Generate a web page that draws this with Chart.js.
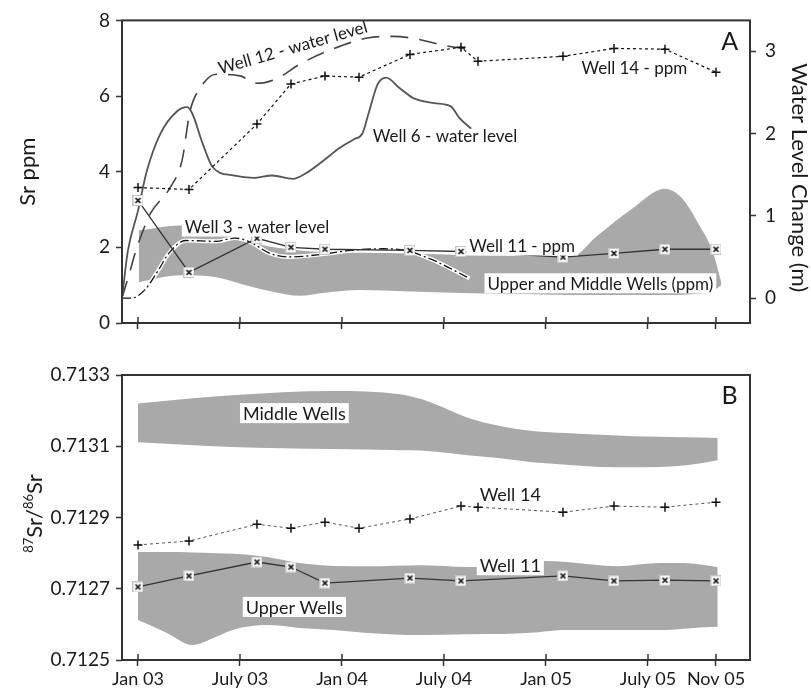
<!DOCTYPE html>
<html>
<head>
<meta charset="utf-8">
<title>Sr ppm, water level and 87Sr/86Sr</title>
<script src="https://cdn.jsdelivr.net/npm/chart.js@4.4.1/dist/chart.umd.min.js"></script>
<style>
  body { margin: 0; background: #fff; }
  canvas { display: block; }
</style>
</head>
<body>
<canvas id="panelA" width="811" height="345"></canvas>
<canvas id="panelB" width="811" height="345"></canvas>
<script>
// x values are months counted from Jan 2003
const tickMonths = [0, 6, 12, 18, 24, 30, 34];
const tickLabels = ["Jan 03", "July 03", "Jan 04", "July 04", "Jan 05", "July 05", "Nov 05"];
const ppmTicks = [0, 2, 4, 6, 8];
const levelTicks = [0, 1, 2, 3];
const ratioTicks = [0.7125, 0.7127, 0.7129, 0.7131, 0.7133];

// sampling dates
const well14Months = [0, 3, 7, 9, 11, 13, 16, 19, 20, 25, 28, 31, 34];
const well11Months = [0, 3, 7, 9, 11, 16, 19, 25, 28, 31, 34];

// panel A - Sr ppm
const well14Ppm = [3.58, 3.53, 5.26, 6.32, 6.53, 6.5, 7.1, 7.29, 6.92, 7.05, 7.26, 7.24, 6.63];
const well11Ppm = [3.24, 1.34, 2.24, 2.0, 1.95, 1.92, 1.89, 1.74, 1.84, 1.95, 1.95];

const bandAMonths = [0.06, 2.5, 4.6, 6.5, 8, 9.5, 11, 13, 16, 19, 22, 25.5, 27, 29, 31, 32, 33, 33.8, 34.3];
const bandAUpper = [2.45, 2.58, 2.39, 2.15, 2.0, 1.92, 1.88, 1.86, 1.84, 1.8, 1.78, 1.76, 2.3, 3.0, 3.55, 3.3, 2.6, 1.9, 1.1];
const bandALower = [1.08, 1.26, 1.21, 0.98, 0.82, 0.72, 0.8, 0.87, 0.83, 0.79, 0.77, 0.74, 0.74, 0.74, 0.74, 0.75, 0.78, 0.84, 1.0];

// panel A - water level change (m)
const well12Months = [-0.94, -0.41, -0.18, 0.41, 0.76, 1.88, 2.59, 3.06, 3.65, 4.6, 6.0, 7.0, 8.2, 9.5, 11.5, 13.5, 15.0, 16.6, 18.0, 19.5];
const well12Level = [0.0, 0.37, 0.54, 0.88, 1.04, 1.34, 1.67, 2.27, 2.55, 2.72, 2.7, 2.61, 2.67, 2.84, 3.03, 3.16, 3.18, 3.14, 3.07, 3.02];

const well6Months = [-0.94, -0.59, 0, 0.5, 1.3, 2.3, 2.9, 3.2, 3.8, 4.4, 5.6, 6.8, 7.9, 9.1, 9.9, 10.9, 11.9, 12.7, 13.2, 13.6, 14.1, 14.6, 15.4, 16.2, 17.4, 18.4, 18.9, 19.6];
const well6Level = [0.0, 0.58, 1.06, 1.53, 1.99, 2.27, 2.32, 2.24, 1.88, 1.59, 1.49, 1.46, 1.49, 1.45, 1.52, 1.67, 1.83, 1.93, 2.0, 2.27, 2.6, 2.68, 2.55, 2.43, 2.37, 2.33, 2.19, 2.06];

const well3Months = [-0.94, -0.4, 0.4, 1.2, 1.8, 2.8, 4.6, 5.7, 6.6, 7.8, 8.9, 11.1, 12.5, 14.4, 16.0, 16.4, 17.6, 19.5];
const well3Level = [0.0, 0.0, 0.1, 0.34, 0.54, 0.7, 0.69, 0.73, 0.68, 0.54, 0.5, 0.54, 0.58, 0.6, 0.57, 0.54, 0.44, 0.24];

// panel B - 87Sr/86Sr
const well14Ratio = [0.712823, 0.712834, 0.712881, 0.71287, 0.712887, 0.71287, 0.712896, 0.712932, 0.712929, 0.712915, 0.712932, 0.712929, 0.712943];
const well11Ratio = [0.712705, 0.712736, 0.712775, 0.712761, 0.712716, 0.71273, 0.712722, 0.712736, 0.712722, 0.712724, 0.712722];

const midMonths = [0, 5.5, 11.5, 15.4, 16.6, 17.4, 19.4, 21.3, 23.2, 25.2, 27.2, 29.1, 32.1, 34.1];
const midUpper = [0.71322, 0.713243, 0.713255, 0.713246, 0.713233, 0.71322, 0.71318, 0.713157, 0.713143, 0.713137, 0.713132, 0.713128, 0.713125, 0.713123];
const midLower = [0.713111, 0.713098, 0.713092, 0.713089, 0.713088, 0.713085, 0.713075, 0.713066, 0.713055, 0.713048, 0.713042, 0.713041, 0.713046, 0.713061];

const upMonths = [0, 1.7, 3.2, 4.6, 5.6, 7.6, 9.5, 11.5, 13.5, 16.6, 19.4, 23.6, 23.9, 25.2, 28.2, 30.7, 32.1, 34.1];
const upUpper = [0.712803, 0.712803, 0.712802, 0.7128, 0.712798, 0.712789, 0.712772, 0.712764, 0.712763, 0.712766, 0.712761, 0.71276, 0.712778, 0.712775, 0.712763, 0.712772, 0.712772, 0.712761];
const upLower = [0.712612, 0.712576, 0.712542, 0.712565, 0.712585, 0.712598, 0.71259, 0.712584, 0.712576, 0.71257, 0.712572, 0.712578, 0.71258, 0.712584, 0.712584, 0.712584, 0.712588, 0.712593];

Chart.defaults.font.family = "Lato";
Chart.defaults.color = "#1a1a1a";

const INK = "#1a1a1a";
const AXIS = "#333";
const BAND = "#a9a9a9";

const pts = (xs, ys) => xs.map((x, i) => ({ x: x, y: ys[i] }));

// white box with an x, used for Well 11
function boxCross(size) {
  const c = document.createElement("canvas");
  c.width = size;
  c.height = size;
  const g = c.getContext("2d");
  g.fillStyle = "#fff";
  g.fillRect(0, 0, size, size);
  g.strokeStyle = "#c4c4c4";
  g.lineWidth = 1;
  g.strokeRect(0.5, 0.5, size - 1, size - 1);
  g.strokeStyle = "#111";
  g.lineWidth = 1.7;
  g.beginPath();
  g.moveTo(3, 3);
  g.lineTo(size - 3, size - 3);
  g.moveTo(size - 3, 3);
  g.lineTo(3, size - 3);
  g.stroke();
  return c;
}
const well11Marker = boxCross(11);

const setTicks = (values) => (scale) => {
  scale.ticks = values.map((v) => ({ value: v }));
};

function xScale(showLabels, height) {
  return {
    type: "linear",
    min: -0.94,
    max: 36,
    afterBuildTicks: setTicks(tickMonths),
    afterFit: (s) => { s.height = height; },
    border: { display: false },
    grid: { drawOnChartArea: false, tickLength: 6, tickColor: AXIS, tickWidth: 1.5 },
    ticks: {
      display: showLabels,
      padding: 2,
      maxRotation: 0,
      autoSkip: false,
      font: { size: 18 },
      callback: (v) => tickLabels[tickMonths.indexOf(v)],
    },
  };
}

function yTickGrid() {
  return { drawOnChartArea: false, tickLength: 6, tickColor: AXIS, tickWidth: 1.5 };
}

// box round the plot and the inner half of the x ticks
const framePlugin = {
  id: "frame",
  afterDraw(chart) {
    const { ctx, chartArea: a } = chart;
    const x = chart.scales.x;
    ctx.save();
    ctx.strokeStyle = AXIS;
    ctx.lineWidth = 1.5;
    tickMonths.forEach((m) => {
      const px = x.getPixelForValue(m);
      ctx.beginPath();
      ctx.moveTo(px, a.bottom);
      ctx.lineTo(px, a.bottom - 6);
      ctx.stroke();
    });
    ctx.lineWidth = 2;
    ctx.strokeRect(a.left, a.top, a.right - a.left, a.bottom - a.top);
    ctx.restore();
  },
};

function notesPlugin(items) {
  return {
    id: "notes",
    afterDatasetsDraw(chart) {
      const ctx = chart.ctx;
      items.forEach((n) => {
        const px = chart.scales.x.getPixelForValue(n.x);
        const py = chart.scales[n.axis || "y"].getPixelForValue(n.y);
        ctx.save();
        ctx.translate(px, py);
        ctx.rotate(((n.rot || 0) * Math.PI) / 180);
        ctx.font = (n.size || 16) + "px Lato";
        ctx.textAlign = "center";
        ctx.textBaseline = "middle";
        if (n.box) {
          const w = ctx.measureText(n.text).width;
          ctx.fillStyle = "#fff";
          ctx.fillRect(-w / 2 - 3, -10, w + 6, 20);
        }
        ctx.fillStyle = INK;
        ctx.fillText(n.text, 0, 1);
        ctx.restore();
      });
    },
  };
}

const titlesA = {
  id: "titlesA",
  afterDraw(chart) {
    const { ctx, chartArea: a } = chart;
    const mid = (a.top + a.bottom) / 2;
    ctx.save();
    ctx.fillStyle = INK;
    ctx.font = "22px Lato";
    ctx.textAlign = "center";
    ctx.textBaseline = "middle";
    ctx.save();
    ctx.translate(28, mid);
    ctx.rotate(-Math.PI / 2);
    ctx.fillText("Sr ppm", 0, 0);
    ctx.restore();
    ctx.translate(799, mid + 6);
    ctx.rotate(Math.PI / 2);
    ctx.fillText("Water Level Change (m)", 0, 0);
    ctx.restore();
  },
};

const titlesB = {
  id: "titlesB",
  afterDraw(chart) {
    const { ctx, chartArea: a } = chart;
    const parts = [["87", 13, -9], ["Sr/", 22, 0], ["86", 13, -9], ["Sr", 22, 0]];
    ctx.save();
    ctx.fillStyle = INK;
    ctx.textBaseline = "alphabetic";
    ctx.textAlign = "left";
    let total = 0;
    const widths = parts.map(([t, s]) => {
      ctx.font = s + "px Lato";
      const w = ctx.measureText(t).width;
      total += w;
      return w;
    });
    ctx.translate(35, (a.top + a.bottom) / 2 - 4);
    ctx.rotate(-Math.PI / 2);
    let cx = -total / 2;
    parts.forEach(([t, s, dy], i) => {
      ctx.font = s + "px Lato";
      ctx.fillText(t, cx, 7 + dy);
      cx += widths[i];
    });
    ctx.restore();
  },
};

const lineBase = { pointRadius: 0, fill: false, cubicInterpolationMode: "monotone" };

const chartA = new Chart(document.getElementById("panelA"), {
  type: "line",
  data: {
    datasets: [
      {
        label: "Well 11 - ppm",
        data: pts(well11Months, well11Ppm),
        yAxisID: "y",
        borderColor: "#333",
        borderWidth: 1.3,
        pointStyle: well11Marker,
        pointRadius: 5,
        tension: 0,
      },
      {
        label: "Well 14 - ppm",
        data: pts(well14Months, well14Ppm),
        yAxisID: "y",
        borderColor: "#111",
        borderWidth: 1.2,
        borderDash: [3, 3],
        pointStyle: "cross",
        pointRadius: 4.5,
        pointBorderColor: "#111",
        pointBorderWidth: 1.5,
        tension: 0,
      },
      {
        ...lineBase,
        label: "Well 3 - water level",
        data: pts(well3Months, well3Level),
        yAxisID: "y2",
        borderColor: "#111",
        borderWidth: 1.3,
        borderDash: [9, 3, 2, 3],
      },
      {
        ...lineBase,
        label: "Well 3 halo",
        data: pts(well3Months, well3Level),
        yAxisID: "y2",
        borderColor: "#fff",
        borderWidth: 4,
      },
      {
        ...lineBase,
        label: "Well 6 - water level",
        data: pts(well6Months, well6Level),
        yAxisID: "y2",
        borderColor: "#555",
        borderWidth: 1.8,
      },
      {
        ...lineBase,
        label: "Well 12 - water level",
        data: pts(well12Months, well12Level),
        yAxisID: "y2",
        borderColor: "#444",
        borderWidth: 1.6,
        borderDash: [18, 11],
      },
      {
        ...lineBase,
        label: "Upper and Middle Wells (ppm)",
        data: pts(bandAMonths, bandAUpper),
        yAxisID: "y",
        borderWidth: 0,
        backgroundColor: BAND,
        fill: "+1",
      },
      {
        ...lineBase,
        label: "band lower",
        data: pts(bandAMonths, bandALower),
        yAxisID: "y",
        borderWidth: 0,
      },
    ],
  },
  options: {
    responsive: false,
    animation: false,
    events: [],
    layout: { padding: { top: 19, left: 0, right: 0, bottom: 0 } },
    plugins: { legend: { display: false }, tooltip: { enabled: false } },
    scales: {
      x: xScale(false, 22),
      y: {
        position: "left",
        min: 0,
        max: 8,
        afterBuildTicks: setTicks(ppmTicks),
        afterFit: (s) => { s.width = 122; },
        border: { display: false },
        grid: yTickGrid(),
        ticks: { padding: 6, font: { size: 19 } },
      },
      y2: {
        position: "right",
        min: -0.302,
        max: 3.374,
        afterBuildTicks: setTicks(levelTicks),
        afterFit: (s) => { s.width = 61; },
        border: { display: false },
        grid: yTickGrid(),
        ticks: { padding: 9, font: { size: 19 } },
      },
    },
  },
  plugins: [
    framePlugin,
    titlesA,
    notesPlugin([
      { text: "Well 12 - water level", x: 9.1, y: 7.3, rot: -16, size: 17 },
      { text: "Well 14 - ppm", x: 29.2, y: 6.76, size: 17 },
      { text: "Well 6 - water level", x: 18.06, y: 4.95, size: 17 },
      { text: "Well 3 - water level", x: 7.0, y: 2.55, box: true, size: 17 },
      { text: "Well 11 - ppm", x: 22.6, y: 2.05, box: true, size: 17 },
      { text: "Upper and Middle Wells (ppm)", x: 27.2, y: 1.05, box: true, size: 17 },
      { text: "A", x: 34.8, y: 7.45, size: 25 },
    ]),
  ],
});

const chartB = new Chart(document.getElementById("panelB"), {
  type: "line",
  data: {
    datasets: [
      {
        label: "Well 11",
        data: pts(well11Months, well11Ratio),
        borderColor: "#333",
        borderWidth: 1.3,
        pointStyle: well11Marker,
        pointRadius: 5,
        tension: 0,
      },
      {
        label: "Well 14",
        data: pts(well14Months, well14Ratio),
        borderColor: "#555",
        borderWidth: 1,
        borderDash: [3, 3],
        pointStyle: "cross",
        pointRadius: 4.5,
        pointBorderColor: "#111",
        pointBorderWidth: 1.5,
        tension: 0,
      },
      {
        ...lineBase,
        label: "Middle Wells",
        data: pts(midMonths, midUpper),
        borderWidth: 0,
        backgroundColor: BAND,
        fill: "+1",
      },
      {
        ...lineBase,
        label: "middle lower",
        data: pts(midMonths, midLower),
        borderWidth: 0,
      },
      {
        ...lineBase,
        label: "Upper Wells",
        data: pts(upMonths, upUpper),
        borderWidth: 0,
        backgroundColor: BAND,
        fill: "+1",
      },
      {
        ...lineBase,
        label: "upper lower",
        data: pts(upMonths, upLower),
        borderWidth: 0,
      },
    ],
  },
  options: {
    responsive: false,
    animation: false,
    events: [],
    layout: { padding: { top: 30, left: 0, right: 61, bottom: 0 } },
    plugins: { legend: { display: false }, tooltip: { enabled: false } },
    scales: {
      x: xScale(true, 30),
      y: {
        position: "left",
        min: 0.7125,
        max: 0.7133,
        afterBuildTicks: setTicks(ratioTicks),
        afterFit: (s) => { s.width = 122; },
        border: { display: false },
        grid: yTickGrid(),
        ticks: { padding: 6, font: { size: 19 }, callback: (v) => v.toFixed(4) },
      },
    },
  },
  plugins: [
    framePlugin,
    titlesB,
    notesPlugin([
      { text: "Middle Wells", x: 9.2, y: 0.713193, box: true, size: 18 },
      { text: "Upper Wells", x: 9.2, y: 0.712649, box: true, size: 18 },
      { text: "Well 14", x: 21.9, y: 0.712966, size: 18 },
      { text: "Well 11", x: 21.9, y: 0.712766, box: true, size: 18 },
      { text: "B", x: 34.8, y: 0.713243, size: 25 },
    ]),
  ],
});
</script>
</body>
</html>
